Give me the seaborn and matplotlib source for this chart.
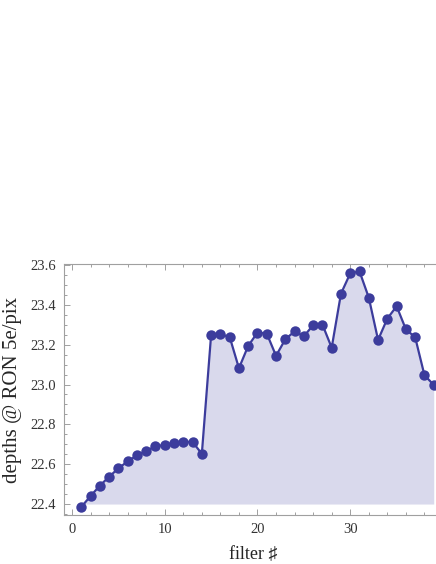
import matplotlib
matplotlib.use("Agg")
import matplotlib.pyplot as plt
import seaborn as sns
import numpy as np
import pandas as pd
from matplotlib.ticker import MultipleLocator

filters = list(range(1, 40))
depths = [22.385, 22.44, 22.492, 22.537, 22.579, 22.614, 22.644, 22.667, 22.689, 22.697,
          22.706, 22.712, 22.712, 22.652, 23.249, 23.252, 23.239, 23.082, 23.194, 23.261,
          23.256, 23.144, 23.227, 23.267, 23.242, 23.298, 23.301, 23.185, 23.456, 23.558,
          23.568, 23.436, 23.224, 23.331, 23.393, 23.277, 23.237, 23.047, 22.998]
x_ticks = [0, 10, 20, 30, 40]
y_ticks = [22.4, 22.6, 22.8, 23.0, 23.2, 23.4, 23.6]

sns.set_style("ticks")
plt.rcParams['font.family'] = ['Liberation Serif', 'DejaVu Serif']

df = pd.DataFrame({"filter": filters, "depth": depths})

fig = plt.figure(figsize=(4.36, 5.64), dpi=100)
ax = fig.add_axes([64/436, 49/564, 379/436, 251/564])

line_c = "#3c3c9c"
fill_c = "#d9d9ec"
ax.fill_between(df["filter"], 22.4, df["depth"], color=fill_c, lw=0, zorder=1)
sns.lineplot(data=df, x="filter", y="depth", ax=ax, color=line_c, lw=1.6,
             marker="o", markersize=7.5, markeredgewidth=0, zorder=3)

ax.set_xlim(-0.86, 39.8)
ax.set_ylim(22.345, 23.605)
ax.set_xticks(x_ticks)
ax.set_yticks(y_ticks)
ax.set_xticklabels([str(t) for t in x_ticks])
ax.set_yticklabels([f"{t:.1f}" for t in y_ticks])
ax.xaxis.set_minor_locator(MultipleLocator(2))
ax.yaxis.set_minor_locator(MultipleLocator(0.05))

frame_c = "#a0a0a0"
for s in ax.spines.values():
    s.set_color(frame_c)
    s.set_linewidth(0.8)
ax.tick_params(which="both", direction="in", color=frame_c, top=True, right=True,
               labelsize=10.5, labelcolor="#333333", width=0.7)
ax.tick_params(which="major", length=4, pad=6)
ax.tick_params(which="minor", length=2)

ax.set_xlabel("filter \u266f", fontsize=13, labelpad=7)
ax.set_ylabel("depths @ RON 5e/pix", fontsize=15, labelpad=6)

fig.savefig("out.png", dpi=100)
